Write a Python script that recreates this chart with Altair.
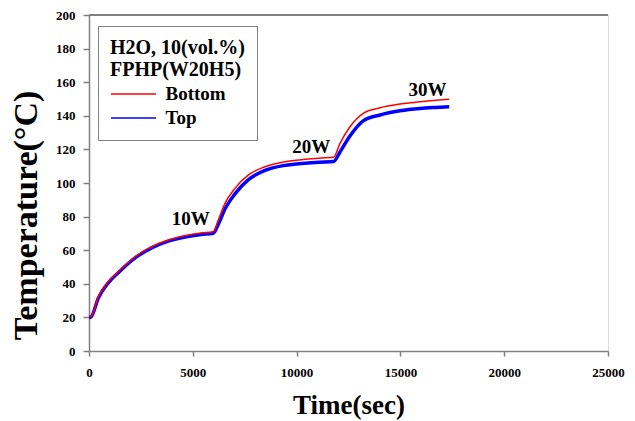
import altair as alt
import pandas as pd

# Data
time_s = [0, 100, 450, 930, 1410, 2220, 3020, 3820, 4620, 5400, 5990,
          6230, 6550, 7030, 7680, 8480, 9440, 10400, 11100, 11780,
          12090, 12570, 13210, 14020, 14980, 15940, 16700, 17350]
bottom = [20.4, 20.6, 32.3, 41.3, 47.2, 56.1, 62.1, 66.1, 68.6, 70.2, 71.0,
          78.0, 87.9, 96.8, 104.8, 109.7, 112.7, 114.1, 114.8, 115.3,
          123.6, 133.5, 141.5, 144.8, 147.0, 148.4, 149.2, 149.8]
top = [20.0, 20.3, 31.6, 40.6, 46.6, 55.4, 61.4, 65.4, 67.9, 69.4, 70.1,
       75.5, 84.5, 93.5, 102.0, 107.5, 110.5, 111.8, 112.4, 112.8,
       118.5, 128.0, 137.0, 140.5, 143.0, 144.4, 145.0, 145.4]

ann_text = ["10W", "20W", "30W"]
ann_time = [4900, 10700, 16300]
ann_temp = [78.6, 121.7, 155.4]

series = ["Bottom", "Top"]
colors = ["#ff0000", "#0000ff"]

FONT = "Liberation Serif"
GREY = "#808080"

df_bottom = pd.DataFrame({"t": time_s, "T": bottom, "s": "Bottom"})
df_top = pd.DataFrame({"t": time_s, "T": top, "s": "Top"})
df_ann = pd.DataFrame({"t": ann_time, "T": ann_temp, "label": ann_text})

xscale = alt.Scale(domain=[0, 25000], nice=False)
yscale = alt.Scale(domain=[0, 200], nice=False)

xaxis = alt.Axis(values=[0, 5000, 10000, 15000, 20000, 25000], format="d",
                 title="Time(sec)", grid=False, domainColor=GREY, domainWidth=1.5,
                 tickColor=GREY, tickWidth=1.5, tickSize=5, labelPadding=10,
                 labelFont=FONT, labelFontSize=13, labelFontWeight="bold",
                 labelColor="black", titleFont=FONT, titleFontSize=27,
                 titleFontWeight="bold", titleColor="black",
                 titleBaseline="alphabetic", titleY=62, titleX=259.5,
                 labelFlush=False, labelOverlap=False)
yaxis = alt.Axis(values=list(range(0, 201, 20)), title="Temperature(°C)",
                 grid=False, domainColor=GREY, domainWidth=1.5, tickColor=GREY,
                 tickWidth=1.5, tickSize=6, labelPadding=8, labelFont=FONT,
                 labelFontSize=13, labelFontWeight="bold", labelColor="black",
                 titleFont=FONT, titleFontSize=34, titleFontWeight="bold",
                 titleColor="black", titleAngle=270, titleAlign="center",
                 titleBaseline="bottom", titleX=-46, titleY=200,
                 labelOverlap=False, labelFlush=False)

color = alt.Color(
    "s:N",
    scale=alt.Scale(domain=series, range=colors),
    legend=alt.Legend(
        title=["H2O, 10(vol.%)", "FPHP(W20H5)"],
        orient="none", legendX=9, legendY=11,
        symbolType="M-2.5,0H2.5", symbolSize=324, symbolOffset=13.5,
        symbolStrokeWidth=1.5, labelOffset=22,
        strokeColor=GREY, fillColor="white", padding=12,
        titleFont=FONT, titleFontSize=20, titleFontWeight="bold",
        titleColor="black", titleLineHeight=22, titlePadding=4,
        labelFont=FONT, labelFontSize=19, labelFontWeight="bold",
        labelColor="black", rowPadding=4,
    ),
)

enc_x = alt.X("t:Q", scale=xscale, axis=xaxis)
enc_y = alt.Y("T:Q", scale=yscale, axis=yaxis)

line_top = alt.Chart(df_top).mark_line(strokeWidth=3.5, interpolate="monotone").encode(
    x=enc_x, y=enc_y, color=color)
line_bottom = alt.Chart(df_bottom).mark_line(strokeWidth=1.5, interpolate="monotone").encode(
    x=enc_x, y=enc_y, color=color)

top_rule = alt.Chart(df_ann).mark_rule(color=GREY, strokeWidth=2).encode(
    y=alt.datum(200, scale=yscale, axis=yaxis))

labels = alt.Chart(df_ann).mark_text(font=FONT, fontSize=19, fontWeight="bold",
                                     color="black").encode(
    x=enc_x, y=enc_y, text="label:N")

chart = alt.layer(line_top, line_bottom, top_rule, labels).properties(
    width=519, height=336,
    autosize=alt.AutoSizeParams(type="none"),
    padding={"left": 81, "top": 7, "right": 19, "bottom": 70},
).configure_view(stroke="black", strokeWidth=1.5).configure(background="white")

chart.save("out.html", embed_options={"renderer": "svg", "actions": False})
